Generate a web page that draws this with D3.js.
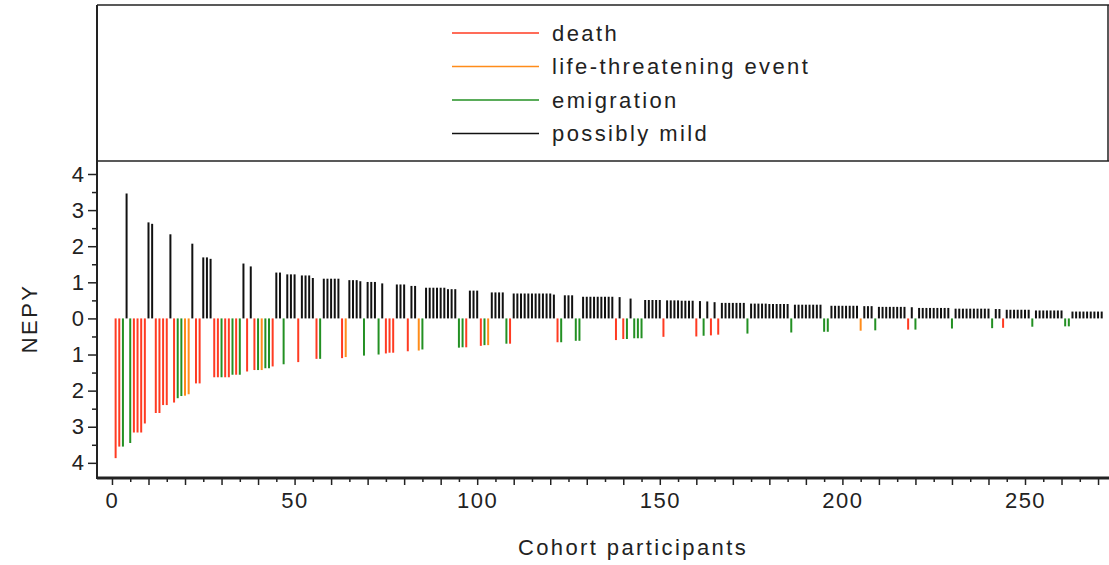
<!DOCTYPE html>
<html>
<head>
<meta charset="utf-8">
<script src="https://cdn.jsdelivr.net/npm/d3@7"></script>
<style>
  body { margin: 0; background: #fff; }
  text { font-family: "Liberation Sans", Arial, sans-serif; fill: #222; }
</style>
</head>
<body>
<div id="chart"></div>
<script>
// outcome categories, legend order
const outcomeNames = ["death", "life-threatening event", "emigration", "possibly mild"];
const outcomeKeys = ["D", "L", "E", "M"];
const outcomeColors = ["#ff3b22", "#ff8c1a", "#239023", "#111111"];

// outcome of each cohort participant, 1..271 (10 per row)
const outcome = [
  "D","D","E","M","E","D","D","D","D","M",
  "M","D","D","D","D","M","D","E","E","L",
  "L","M","D","D","M","M","M","D","D","E",
  "D","D","E","D","E","M","D","M","D","E",
  "L","E","E","D","M","M","E","M","M","M",
  "D","M","M","M","M","D","E","M","M","M",
  "M","M","D","L","M","M","M","M","E","M",
  "M","M","E","M","D","D","D","M","M","M",
  "D","M","M","L","E","M","M","M","M","M",
  "M","M","M","M","E","E","D","M","M","M",
  "D","E","L","M","M","M","M","E","D","M",
  "M","M","M","M","M","M","M","M","M","M",
  "M","D","E","M","M","M","E","E","M","M",
  "M","M","M","M","M","M","M","D","M","D",
  "E","M","E","E","E","M","M","M","M","M",
  "D","M","M","M","M","M","M","M","M","D",
  "M","E","M","D","M","D","M","M","M","M",
  "M","M","M","E","M","M","M","M","M","M",
  "M","M","M","M","M","E","M","M","M","M",
  "M","M","M","M","E","E","M","M","M","M",
  "M","M","M","M","L","M","M","M","E","M",
  "M","M","M","M","M","M","M","D","M","E",
  "M","M","M","M","M","M","M","M","M","E",
  "M","M","M","M","M","M","M","M","M","M",
  "E","M","M","D","M","M","M","M","M","M",
  "M","E","M","M","M","M","M","M","M","M",
  "E","E","M","M","M","M","M","M","M","M",
  "M"
];

// NEPY of each participant (size of the line), 1..271
const nepy = [
  3.87,3.55,3.55,3.46,3.45,3.16,3.16,3.16,2.91,2.66,
  2.62,2.62,2.62,2.40,2.40,2.33,2.33,2.21,2.15,2.14,
  2.10,2.07,1.80,1.80,1.69,1.69,1.65,1.63,1.63,1.63,
  1.63,1.63,1.56,1.56,1.56,1.52,1.47,1.44,1.43,1.43,
  1.43,1.38,1.38,1.33,1.27,1.27,1.27,1.22,1.22,1.22,
  1.21,1.19,1.19,1.19,1.12,1.12,1.12,1.10,1.10,1.10,
  1.10,1.10,1.10,1.07,1.06,1.06,1.06,1.03,1.03,1.01,
  1.01,1.01,1.00,0.97,0.97,0.95,0.95,0.94,0.94,0.94,
  0.91,0.90,0.90,0.89,0.86,0.85,0.85,0.85,0.85,0.85,
  0.85,0.81,0.81,0.81,0.81,0.80,0.80,0.77,0.77,0.77,
  0.76,0.74,0.74,0.72,0.72,0.72,0.72,0.70,0.70,0.69,
  0.69,0.69,0.69,0.69,0.69,0.69,0.69,0.69,0.69,0.69,
  0.66,0.66,0.66,0.64,0.64,0.64,0.62,0.62,0.60,0.60,
  0.60,0.60,0.60,0.60,0.60,0.60,0.60,0.60,0.59,0.57,
  0.57,0.55,0.55,0.55,0.55,0.51,0.51,0.51,0.51,0.51,
  0.51,0.50,0.50,0.50,0.50,0.49,0.49,0.49,0.49,0.50,
  0.48,0.48,0.47,0.47,0.45,0.45,0.43,0.43,0.43,0.43,
  0.43,0.43,0.43,0.42,0.41,0.41,0.41,0.41,0.41,0.40,
  0.40,0.40,0.40,0.40,0.40,0.39,0.38,0.38,0.38,0.38,
  0.38,0.38,0.38,0.38,0.37,0.37,0.35,0.35,0.35,0.35,
  0.35,0.35,0.35,0.35,0.34,0.34,0.34,0.34,0.33,0.32,
  0.32,0.32,0.32,0.32,0.32,0.32,0.32,0.31,0.31,0.31,
  0.29,0.29,0.29,0.29,0.29,0.29,0.29,0.29,0.29,0.28,
  0.27,0.27,0.27,0.27,0.27,0.27,0.27,0.27,0.27,0.27,
  0.27,0.26,0.26,0.26,0.24,0.24,0.24,0.24,0.24,0.24,
  0.24,0.23,0.22,0.22,0.22,0.22,0.22,0.22,0.22,0.22,
  0.22,0.22,0.19,0.19,0.19,0.19,0.19,0.19,0.19,0.19,
  0.19
];

const data = nepy.map((v, i) => ({ id: i + 1, value: v, kind: outcome[i] }));

const width = 1109, height = 565;
const plotLeft = 97, plotRight = 1109, boxTop = 5, legendBottom = 161, plotBottom = 478;

const svg = d3.select("#chart")
  .append("svg")
  .attr("width", width)
  .attr("height", height);

const x = d3.scaleLinear().domain([-4.1, 273]).range([plotLeft, plotRight]);
const y = d3.scaleLinear().domain([-4.42, 4.36]).range([plotBottom, legendBottom]);
const color = d3.scaleOrdinal().domain(outcomeKeys).range(outcomeColors);

// lines: possibly mild go up, the others go down
svg.append("g")
  .selectAll("line")
  .data(data)
  .enter()
  .append("line")
  .attr("x1", d => x(d.id))
  .attr("x2", d => x(d.id))
  .attr("y1", y(0))
  .attr("y2", d => d.kind === "M" ? y(d.value) : y(-d.value))
  .attr("stroke", d => color(d.kind))
  .attr("stroke-width", 2);

// X axis
const xAxis = svg.append("g")
  .attr("transform", `translate(0,${plotBottom})`)
  .call(d3.axisBottom(x)
    .tickValues(d3.range(0, 271, 5))
    .tickSize(6)
    .tickPadding(8)
    .tickFormat(d => d % 50 === 0 ? d : ""));
xAxis.select(".domain").remove();
xAxis.selectAll(".tick line")
  .attr("y2", d => d % 10 === 0 ? 7 : 4)
  .attr("stroke", "#222")
  .attr("stroke-width", 1.5);
xAxis.selectAll(".tick text")
  .style("font-size", "22px")
  .style("letter-spacing", "1.5px")
  .attr("fill", "#222");

// Y axis, absolute values on both sides
const yAxis = svg.append("g")
  .attr("transform", `translate(${plotLeft},0)`)
  .call(d3.axisLeft(y)
    .tickValues(d3.range(-4, 4.01, 0.5))
    .tickSize(9)
    .tickPadding(4)
    .tickFormat(d => Number.isInteger(d) ? Math.abs(d) : ""));
yAxis.select(".domain").remove();
yAxis.selectAll(".tick line")
  .attr("x2", d => Number.isInteger(d) ? -9 : -5)
  .attr("stroke", "#222")
  .attr("stroke-width", 1.5);
yAxis.selectAll(".tick text")
  .style("font-size", "22px")
  .attr("fill", "#222");

// frame
svg.append("line").attr("x1", plotLeft).attr("x2", plotLeft).attr("y1", boxTop).attr("y2", plotBottom + 1)
  .attr("stroke", "#222").attr("stroke-width", 2);
svg.append("line").attr("x1", plotLeft).attr("x2", plotRight).attr("y1", boxTop).attr("y2", boxTop)
  .attr("stroke", "#222").attr("stroke-width", 1.5);
svg.append("line").attr("x1", plotRight - 1).attr("x2", plotRight - 1).attr("y1", boxTop).attr("y2", legendBottom)
  .attr("stroke", "#222").attr("stroke-width", 1.5);
svg.append("line").attr("x1", plotLeft).attr("x2", plotRight).attr("y1", legendBottom).attr("y2", legendBottom)
  .attr("stroke", "#222").attr("stroke-width", 1.5);
svg.append("line").attr("x1", plotLeft).attr("x2", plotRight).attr("y1", plotBottom).attr("y2", plotBottom)
  .attr("stroke", "#222").attr("stroke-width", 3);

// legend
const legend = svg.append("g")
  .selectAll("g")
  .data(outcomeNames)
  .enter()
  .append("g")
  .attr("transform", (d, i) => `translate(452,${33 + i * 33.5})`);
legend.append("line")
  .attr("x1", 0).attr("x2", 87)
  .attr("stroke", (d, i) => outcomeColors[i])
  .attr("stroke-width", 1.5);
legend.append("text")
  .attr("x", 100)
  .attr("dy", "0.35em")
  .style("font-size", "22px")
  .style("letter-spacing", "2.4px")
  .text(d => d);

// axis titles
svg.append("text")
  .attr("x", 633)
  .attr("y", 555)
  .attr("text-anchor", "middle")
  .style("font-size", "22px")
  .style("letter-spacing", "2.4px")
  .text("Cohort participants");

svg.append("text")
  .attr("transform", `translate(37,${y(0)}) rotate(-90)`)
  .attr("text-anchor", "middle")
  .style("font-size", "22px")
  .style("letter-spacing", "2.4px")
  .text("NEPY");
</script>
</body>
</html>
